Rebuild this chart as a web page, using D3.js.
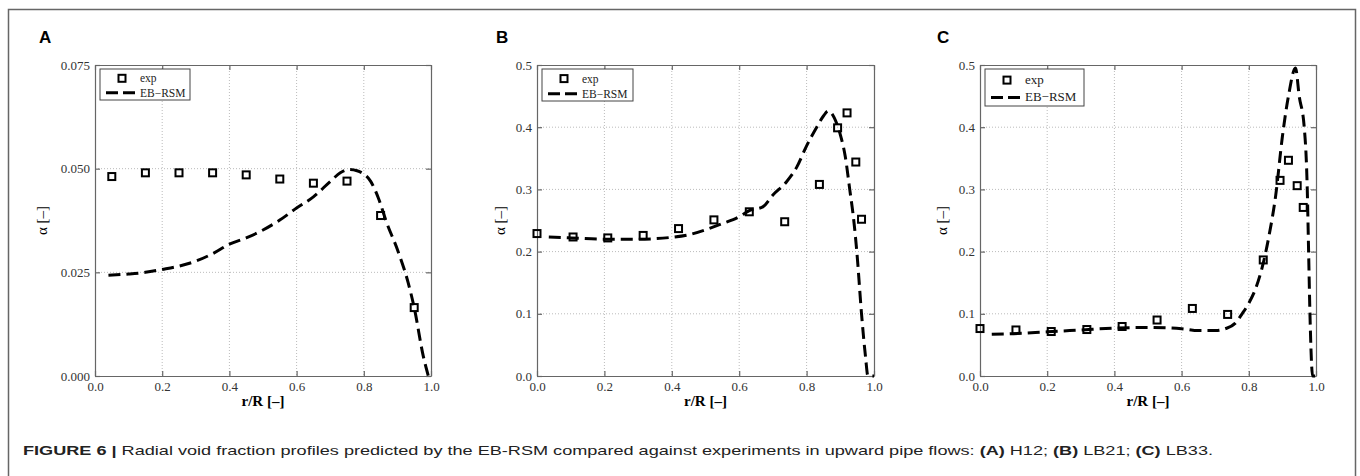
<!DOCTYPE html>
<html>
<head>
<meta charset="utf-8">
<script src="https://cdn.jsdelivr.net/npm/d3@7/dist/d3.min.js"></script>
<style>
  body { margin: 0; background: #fff; }
  svg { display: block; }
</style>
</head>
<body>
<svg id="fig" width="1360" height="476"></svg>
<script>
// ticks
const xTicks = [0, 0.2, 0.4, 0.6, 0.8, 1.0];
const yTicksA = [0, 0.025, 0.05, 0.075];
const yTicksBC = [0, 0.1, 0.2, 0.3, 0.4, 0.5];
const legendLabels = ["exp", "EB\u2212RSM"];

// (A) H12
const expXA = [0.05, 0.15, 0.25, 0.35, 0.45, 0.55, 0.65, 0.75, 0.85, 0.95];
const expYA = [0.0481, 0.0490, 0.0490, 0.0490, 0.0485, 0.0475, 0.0465, 0.0470, 0.0387, 0.0165];
const modXA = [0.04, 0.1, 0.15, 0.2, 0.25, 0.3, 0.35, 0.4, 0.45, 0.5, 0.55, 0.6, 0.65, 0.7, 0.73, 0.755, 0.78, 0.8, 0.82, 0.843, 0.868, 0.9, 0.932, 0.95, 0.977, 0.992];
const modYA = [0.0243, 0.0246, 0.0250, 0.0257, 0.0265, 0.0277, 0.0295, 0.0318, 0.0333, 0.0352, 0.0376, 0.0405, 0.0432, 0.0469, 0.0490, 0.0498, 0.0495, 0.0487, 0.0470, 0.0430, 0.0370, 0.0305, 0.0225, 0.0165, 0.0048, 0];

// (B) LB21
const expXB = [0.0, 0.107, 0.21, 0.315, 0.42, 0.525, 0.63, 0.735, 0.838, 0.892, 0.92, 0.946, 0.963];
const expYB = [0.229, 0.2235, 0.222, 0.226, 0.237, 0.251, 0.264, 0.248, 0.308, 0.399, 0.423, 0.344, 0.252];
const modXB = [0.035, 0.1, 0.2, 0.3, 0.4, 0.45, 0.5, 0.55, 0.6, 0.63, 0.67, 0.7, 0.74, 0.77, 0.8, 0.83, 0.85, 0.864, 0.89, 0.9, 0.915, 0.928, 0.94, 0.949, 0.963, 0.975, 0.982, 1.0];
const modYB = [0.2235, 0.222, 0.220, 0.220, 0.223, 0.227, 0.235, 0.245, 0.256, 0.266, 0.272, 0.291, 0.312, 0.335, 0.370, 0.400, 0.418, 0.426, 0.405, 0.388, 0.352, 0.300, 0.250, 0.200, 0.100, 0.030, 0, 0];

// (C) LB33
const expXC = [0.0, 0.107, 0.212, 0.318, 0.423, 0.527, 0.632, 0.737, 0.843, 0.893, 0.918, 0.944, 0.962];
const expYC = [0.0763, 0.074, 0.0715, 0.0747, 0.0796, 0.090, 0.1086, 0.099, 0.1866, 0.3145, 0.3468, 0.306, 0.271];
const modXC = [0.035, 0.1, 0.2, 0.3, 0.4, 0.5, 0.6, 0.65, 0.7, 0.73, 0.76, 0.78, 0.8, 0.82, 0.84, 0.86, 0.88, 0.9, 0.918, 0.939, 0.95, 0.965, 0.974, 0.978, 0.982, 0.99, 1.0];
const modYC = [0.067, 0.068, 0.071, 0.074, 0.077, 0.078, 0.076, 0.073, 0.073, 0.076, 0.085, 0.100, 0.117, 0.140, 0.175, 0.225, 0.290, 0.385, 0.450, 0.495, 0.450, 0.400, 0.300, 0.200, 0.100, 0, 0];

const svg = d3.select("#fig");
const serif = "'Liberation Serif', 'DejaVu Serif', serif";
const sans = "'Liberation Sans', Arial, sans-serif";

// outer frame (open at the bottom)
svg.append("path")
    .attr("d", "M8.5,476 V9.5 H1355.5 V476")
    .attr("fill", "none")
    .attr("stroke", "#666")
    .attr("stroke-width", 1.5);

const panels = [
    { letter: "A", left: 95, right: 431, letterX: 39, labelX: 47, yMax: 0.075, yTicks: yTicksA, fmt: ".3f",
      ex: expXA, ey: expYA, mx: modXA, my: modYA, leg: { w: 90, h: 31, fs: 11.5 } },
    { letter: "B", left: 537, right: 874, letterX: 496, labelX: 505, yMax: 0.5, yTicks: yTicksBC, fmt: ".1f",
      ex: expXB, ey: expYB, mx: modXB, my: modYB, leg: { w: 91, h: 32, fs: 11.5 } },
    { letter: "C", left: 980, right: 1316, letterX: 937, labelX: 947, yMax: 0.5, yTicks: yTicksBC, fmt: ".1f",
      ex: expXC, ey: expYC, mx: modXC, my: modYC, leg: { w: 99, h: 37, fs: 13 } }
];
const plotTop = 65, plotBottom = 376;

panels.forEach(p => {
    const x = d3.scaleLinear().domain([0, 1]).range([p.left, p.right]);
    const y = d3.scaleLinear().domain([0, p.yMax]).range([plotBottom, plotTop]);
    const g = svg.append("g");

    // panel letter
    g.append("text")
        .attr("x", p.letterX).attr("y", 43)
        .style("font-family", sans).style("font-weight", "bold").style("font-size", "17px")
        .text(p.letter);

    // grid
    g.selectAll(".gx").data(xTicks.slice(1, -1)).enter().append("line")
        .attr("x1", d => x(d)).attr("x2", d => x(d)).attr("y1", plotTop).attr("y2", plotBottom)
        .attr("stroke", "#bbb").attr("stroke-width", 1).attr("stroke-dasharray", "1,2");
    g.selectAll(".gy").data(p.yTicks.slice(1, -1)).enter().append("line")
        .attr("x1", p.left).attr("x2", p.right).attr("y1", d => y(d)).attr("y2", d => y(d))
        .attr("stroke", "#bbb").attr("stroke-width", 1).attr("stroke-dasharray", "1,2");

    // axes, ticks pointing inward on all sides
    const styleAxis = sel => {
        sel.selectAll("path, line").attr("stroke", "#666").attr("stroke-width", 1.2);
        sel.selectAll("text").style("font-family", serif).style("font-size", "13px").attr("fill", "#333");
    };
    g.append("g").attr("transform", `translate(0,${plotBottom})`)
        .call(d3.axisBottom(x).tickValues(xTicks).tickFormat(d3.format(".1f")).tickSize(-5).tickSizeOuter(0).tickPadding(6))
        .call(styleAxis);
    g.append("g").attr("transform", `translate(0,${plotTop})`)
        .call(d3.axisTop(x).tickValues(xTicks).tickFormat("").tickSize(-5).tickSizeOuter(0))
        .call(styleAxis);
    g.append("g").attr("transform", `translate(${p.left},0)`)
        .call(d3.axisLeft(y).tickValues(p.yTicks).tickFormat(d3.format(p.fmt)).tickSize(-5).tickSizeOuter(0).tickPadding(5))
        .call(styleAxis);
    g.append("g").attr("transform", `translate(${p.right},0)`)
        .call(d3.axisRight(y).tickValues(p.yTicks).tickFormat("").tickSize(-5).tickSizeOuter(0))
        .call(styleAxis);
    g.selectAll(".domain").attr("fill", "none");

    // axis titles
    g.append("text")
        .attr("x", (p.left + p.right) / 2).attr("y", 406)
        .attr("text-anchor", "middle")
        .style("font-family", serif).style("font-weight", "bold").style("font-size", "15px")
        .text("r/R [\u2013]");
    g.append("text")
        .attr("transform", `translate(${p.labelX},${(plotTop + plotBottom) / 2}) rotate(-90)`)
        .attr("text-anchor", "middle")
        .style("font-family", serif).style("font-size", "15px")
        .text("\u03b1 [\u2013]");

    // model curve
    const line = d3.line()
        .x(d => x(d[0])).y(d => y(d[1]))
        .curve(d3.curveMonotoneX);
    g.append("path")
        .datum(d3.zip(p.mx, p.my))
        .attr("d", line)
        .attr("fill", "none")
        .attr("stroke", "#000")
        .attr("stroke-width", 3)
        .attr("stroke-dasharray", "12,6");

    // experiment markers
    g.selectAll(".pt").data(d3.zip(p.ex, p.ey)).enter().append("rect")
        .attr("x", d => x(d[0]) - 3.5).attr("y", d => y(d[1]) - 3.5)
        .attr("width", 7).attr("height", 7)
        .attr("fill", "none").attr("stroke", "#000").attr("stroke-width", 2);

    // legend
    const L = p.leg;
    const lg = g.append("g").attr("transform", `translate(${p.left + 5},${plotTop + 4})`);
    lg.append("rect").attr("width", L.w).attr("height", L.h)
        .attr("fill", "#fff").attr("stroke", "#444").attr("stroke-width", 1);
    const row1 = L.h * 0.3, row2 = L.h * 0.77;
    lg.append("rect").attr("x", 22 - 3.5).attr("y", row1 - 3.5).attr("width", 7).attr("height", 7)
        .attr("fill", "none").attr("stroke", "#000").attr("stroke-width", 2);
    lg.append("line").attr("x1", 6).attr("x2", 36).attr("y1", row2).attr("y2", row2)
        .attr("stroke", "#000").attr("stroke-width", 3).attr("stroke-dasharray", "12,5");
    lg.selectAll(".lt").data(legendLabels).enter().append("text")
        .attr("x", 40).attr("y", (d, i) => (i ? row2 : row1) + 4)
        .style("font-family", serif).style("font-size", L.fs + "px").attr("fill", "#222")
        .text(d => d);
});

// caption
const cap = svg.append("text")
    .attr("x", 23).attr("y", 455)
    .attr("textLength", 1190).attr("lengthAdjust", "spacingAndGlyphs")
    .style("font-family", sans).style("font-size", "13px").attr("fill", "#222");
const capParts = [
    ["FIGURE 6 | ", true],
    ["Radial void fraction profiles predicted by the EB-RSM compared against experiments in upward pipe flows: ", false],
    ["(A)", true], [" H12; ", false], ["(B)", true], [" LB21; ", false], ["(C)", true], [" LB33.", false]
];
capParts.forEach(([t, b]) => cap.append("tspan").style("font-weight", b ? "bold" : "normal").text(t));
</script>
</body>
</html>
